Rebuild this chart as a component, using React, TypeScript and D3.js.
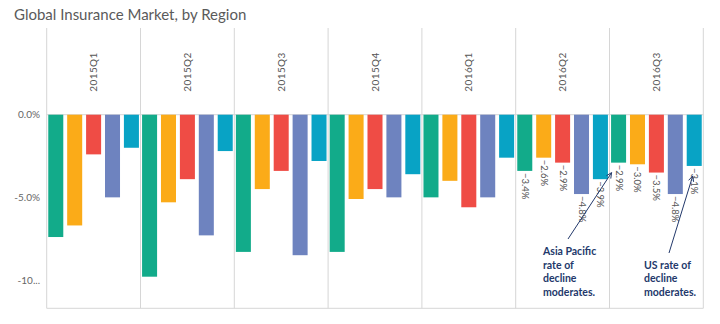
import React from "react";
import * as d3 from "d3";

const quarters = ["2015Q1", "2015Q2", "2015Q3", "2015Q4", "2016Q1", "2016Q2", "2016Q3"];
const regions = ["Asia Pacific", "Europe", "Latin America", "Middle East & Africa", "US"];
const regionColors = ["#12ab8a", "#fbab18", "#ef4c45", "#6e83bf", "#08a3c5"];

const asiaPacific = [-7.4, -9.8, -8.3, -8.3, -5.0, -3.4, -2.9];
const europe = [-6.7, -5.3, -4.5, -5.1, -4.0, -2.6, -3.0];
const latinAmerica = [-2.4, -3.9, -3.4, -4.5, -5.6, -2.9, -3.5];
const middleEastAfrica = [-5.0, -7.3, -8.5, -5.0, -5.0, -4.8, -4.8];
const us = [-2.0, -2.2, -2.8, -3.6, -2.6, -3.9, -3.1];
const seriesValues = [asiaPacific, europe, latinAmerica, middleEastAfrica, us];

const labeledQuarters = ["2016Q2", "2016Q3"];
const yTicks = [0, -5, -10];
const yTickLabels = ["0.0%", "-5.0%", "-10..."];

const annotations = [
  { lines: ["Asia Pacific", "rate of", "decline", "moderates."], quarter: "2016Q3", region: 0, textX: 543, textY: 255, tailX: 568, tailY: 239, dx: 0.5, dy: 10 },
  { lines: ["US rate of", "decline", "moderates."], quarter: "2016Q3", region: 4, textX: 644, textY: 268.5, tailX: 669, tailY: 253, dx: 6, dy: 10 },
];

const W = 720;
const H = 324;
const left = 46.7;
const right = 703.3;
const top = 28;
const bottom = 308.3;
const font = "Lato, 'Open Sans', sans-serif";

export default function App() {
  const x0 = d3.scaleBand<string>().domain(quarters).range([left, right]).padding(0);
  const x1 = d3.scaleBand<number>().domain(d3.range(regions.length)).range([0, x0.bandwidth()]).paddingInner(0.206).paddingOuter(0.083);
  const y = d3.scaleLinear().domain([0, -10]).range([114.7, 280]);
  const fmt = d3.format(".1f");

  const dividers = quarters.map((q) => x0(q)!).concat([right]);

  return (
    <svg width={W} height={H} style={{ position: "absolute", left: 0, top: 0, background: "#fff" }}>
      <text x={14} y={20} fontFamily={font} fontSize={15} fill="#5a5a5a">Global Insurance Market, by Region</text>

      {dividers.map((d, i) => (
        <line key={"dv" + i} x1={d} x2={d} y1={top} y2={bottom} stroke="#d6d6d6" strokeWidth={1} />
      ))}
      <line x1={left} x2={right} y1={y(0)} y2={y(0)} stroke="#d6d6d6" strokeWidth={1} />
      <line x1={left} x2={right} y1={bottom} y2={bottom} stroke="#d6d6d6" strokeWidth={1} />

      {quarters.map((q) => {
        const cx = x0(q)! + x0.bandwidth() / 2;
        return (
          <text key={"h" + q} transform={`translate(${cx + 3.5},72) rotate(-90)`} textAnchor="middle" fontFamily={font} fontSize={10} fill="#555" letterSpacing={0.4}>
            {q}
          </text>
        );
      })}

      {yTicks.map((t, i) => (
        <text key={"yt" + i} x={40} y={y(t) + 3.5} textAnchor="end" fontFamily={font} fontSize={10} fill="#666">
          {yTickLabels[i]}
        </text>
      ))}

      {quarters.map((q, qi) =>
        seriesValues.map((vals, ri) => {
          const v = vals[qi];
          const bx = x0(q)! + x1(ri)!;
          return (
            <rect key={`b${qi}-${ri}`} x={bx} y={y(0)} width={x1.bandwidth()} height={y(v) - y(0)} fill={regionColors[ri]} />
          );
        })
      )}

      {quarters.map((q, qi) =>
        labeledQuarters.includes(q)
          ? seriesValues.map((vals, ri) => {
              const v = vals[qi];
              const cx = x0(q)! + x1(ri)! + x1.bandwidth() / 2;
              return (
                <text key={`l${qi}-${ri}`} transform={`translate(${cx - 3},${y(v) + 2}) rotate(90)`} fontFamily={font} fontSize={9.5} fill="#555">
                  {fmt(v) + "%"}
                </text>
              );
            })
          : null
      )}

      {annotations.map((a, i) => {
        const qi = quarters.indexOf(a.quarter);
        const tipX = x0(a.quarter)! + x1(a.region)! + a.dx;
        const tipY = y(seriesValues[a.region][qi]) + a.dy;
        const ang = Math.atan2(tipY - a.tailY, tipX - a.tailX);
        const hl = 6;
        const spread = 0.45;
        const p1 = [tipX - hl * Math.cos(ang - spread), tipY - hl * Math.sin(ang - spread)];
        const p2 = [tipX - hl * Math.cos(ang + spread), tipY - hl * Math.sin(ang + spread)];
        return (
          <g key={"a" + i}>
            <line x1={a.tailX} y1={a.tailY} x2={tipX} y2={tipY} stroke="#23396b" strokeWidth={1} />
            <path d={`M${p1[0]},${p1[1]}L${tipX},${tipY}L${p2[0]},${p2[1]}`} fill="none" stroke="#23396b" strokeWidth={1} />
            {a.lines.map((ln, j) => (
              <text key={j} x={a.textX} y={a.textY + j * 13.7} fontFamily={font} fontSize={10.5} fontWeight="bold" fill="#23396b">
                {ln}
              </text>
            ))}
          </g>
        );
      })}
    </svg>
  );
}
